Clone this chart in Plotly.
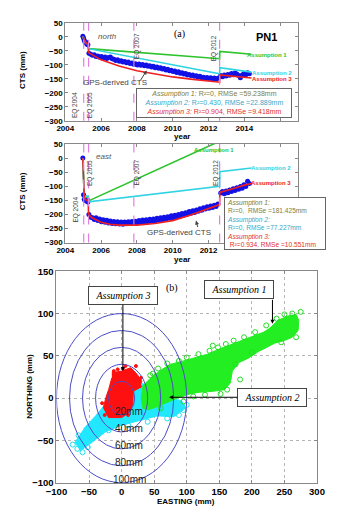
import plotly.graph_objects as go

# ---------------- data ----------------
EQ_YEARS = [2005.03, 2005.30, 2007.83, 2012.62]
EQ_LABELS = ["EQ 2004", "EQ 2005", "EQ 2007", "EQ 2012"]
EQ_LABEL_X_N = [2004.58, 2005.42, 2008.02, 2012.32]
EQ_LABEL_Y_N = [-245, -245, -32, -40]
EQ_LABEL_X_E = [2004.58, 2005.38, 2007.98, 2012.41]
EQ_LABEL_Y_E = [-184, -53, -53, -53]

GPS_YEARS = [2004.98, 2005.02, 2005.06, 2005.10, 2005.14, 2005.18, 2005.22, 2005.26,
             2005.32, 2005.42, 2005.52, 2005.62, 2005.72, 2005.82, 2005.92,
             2006.02, 2006.12, 2006.22, 2006.32, 2006.42, 2006.52, 2006.62, 2006.72, 2006.82, 2006.92,
             2007.02, 2007.12, 2007.22, 2007.32, 2007.42, 2007.52, 2007.62, 2007.72, 2007.82, 2007.92,
             2008.02, 2008.12, 2008.22, 2008.32, 2008.42, 2008.52, 2008.62, 2008.72, 2008.82, 2008.92,
             2009.02, 2009.12, 2009.22, 2009.32, 2009.42, 2009.52, 2009.62, 2009.72, 2009.82, 2009.92,
             2010.02, 2010.12, 2010.22, 2010.32, 2010.42, 2010.52, 2010.62, 2010.72, 2010.82, 2010.92,
             2011.02, 2011.12, 2011.22, 2011.32, 2011.42, 2011.52, 2011.62, 2011.72, 2011.82, 2011.92,
             2012.02, 2012.12, 2012.22, 2012.32, 2012.42, 2012.52,
             2012.68, 2012.78, 2012.88, 2012.98, 2013.08, 2013.18, 2013.28, 2013.38, 2013.48,
             2013.58, 2013.68, 2013.78, 2013.88, 2013.98, 2014.08, 2014.18, 2014.28]

GPS_NORTH = [2, -4, -12, -18, -22, -20, -26, -28,
             -58, -62, -66, -64, -70, -68, -73,
             -70, -75, -72, -77, -74, -72, -78, -80, -84, -82,
             -87, -85, -90, -88, -92, -90, -95, -93, -98, -96,
             -100, -97, -101, -99, -103, -100, -105, -103, -108, -105,
             -110, -108, -112, -110, -115, -113, -118, -116, -121, -119,
             -124, -122, -127, -125, -130, -128, -133, -131, -136, -134,
             -138, -136, -141, -139, -143, -141, -146, -144, -148, -145,
             -149, -146, -150, -147, -151, -148,
             -138, -142, -136, -140, -134, -137, -131, -135, -129,
             -133, -138, -146, -136, -131, -135, -128, -132]

GPS_EAST = [0, -130, -146, -150, -142, -152, -146, -156,
            -200, -210, -212, -218, -212, -222, -216,
            -226, -219, -228, -221, -230, -223, -232, -225, -233, -226,
            -234, -227, -235, -227, -233, -226, -232, -225, -231, -224,
            -230, -222, -229, -220, -227, -219, -226, -217, -224, -216,
            -223, -214, -221, -212, -219, -210, -217, -208, -214, -205,
            -212, -203, -209, -200, -206, -197, -203, -194, -199, -190,
            -196, -187, -193, -184, -189, -180, -185, -176, -181, -173,
            -178, -170, -175, -167, -172, -163,
            -124, -119, -127, -117, -123, -113, -119, -109, -115,
            -105, -111, -101, -107, -95, -101, -82, -90]

A1_N_YEARS = [2004.98, 2005.10, 2005.28, 2005.30, 2012.62, 2012.63, 2014.40]
A1_N = [2, -18, -28, -42, -78, -52, -62]
A2_N_YEARS = [2004.98, 2005.10, 2005.28, 2005.30, 2012.62, 2012.63, 2014.40]
A2_N = [2, -18, -28, -42, -132, -110, -126]
A3_N_YEARS = [2004.98, 2005.10, 2005.28, 2005.30, 2006.0, 2007.0, 2008.0, 2009.0,
              2010.0, 2011.0, 2012.0, 2012.62, 2012.63, 2014.40]
A3_N = [2, -18, -28, -56, -82, -104, -121, -133, -143, -151, -158, -162, -136, -147]

A1_E_YEARS = [2004.98, 2005.03, 2005.06, 2005.15, 2005.28, 2005.30, 2012.62, 2012.63, 2014.40]
A1_E = [0, -100, -140, -138, -140, -152, 60, 80, 100]
A2_E_YEARS = [2004.98, 2005.03, 2005.06, 2005.15, 2005.28, 2005.30, 2012.62, 2012.63, 2014.40]
A2_E = [0, -100, -140, -135, -135, -155, -100, -48, -35]
A3_E_YEARS = [2004.98, 2005.03, 2005.06, 2005.15, 2005.28, 2005.30, 2005.5, 2006.0, 2006.5,
              2007.0, 2008.0, 2009.0, 2010.0, 2011.0, 2012.0, 2012.62, 2012.63, 2013.0,
              2013.5, 2014.0, 2014.40]
A3_E = [0, -100, -140, -148, -152, -200, -212, -228, -235, -238, -238, -232, -222,
        -202, -180, -165, -122, -116, -106, -96, -90]

YEAR_TICKS = [2004, 2006, 2008, 2010, 2012, 2014, 2016]
YEAR_TICKTEXT_N = ["2004", "2006", "2008", "2010", "2012", "2014", ""]
YEAR_TICKTEXT_E = ["2004", "2006", "2008", "2010", "2012", "", ""]   # 2014 hidden behind the box
CTS_TICKS = [50, 0, -50, -100, -150, -200, -250, -300]

# scatter (b): cluster outlines (EASTING, NORTHING in mm) and scattered points
GREEN_E = [33, 30, 33, 45, 60, 75, 95, 115, 132, 150, 170, 190, 204, 218, 228, 240, 255, 268,
           272, 271, 262, 250, 235, 225, 210, 194, 180, 170, 167, 158, 140, 120, 105, 85, 70, 55, 40]
GREEN_N = [-13, 0, 15, 24, 33, 40, 44, 48, 52, 58, 64, 70, 74, 78, 83, 92, 97, 99,
           92, 80, 72, 68, 65, 61, 55, 47, 42, 32, 18, 10, 8, 7, 5, 0, -5, -10, -14]
GREEN_PTS_E = [275, 262, 250, 238, 222, 205, 188, 172, 160, 148, 135, 118, 100, 88, 70, 56,
               44, 162, 175, 152, 128, 110, 95, 245, 268, 200, 182, 140, 60, 48]
GREEN_PTS_N = [102, 100, 99, 94, 86, 78, 72, 68, 64, 60, 56, 52, 48, 44, 41, 35,
               27, 10, 40, 5, 4, 2, -4, 66, 72, 54, 22, 62, -12, 29]

CYAN_E = [-72, -63, -45, -25, 0, 25, 55, 80, 98, 92, 62, 45, 30, 15, -10, -27, -40, -58]
CYAN_N = [-52, -62, -52, -40, -32, -27, -21, -22, -12, -3, 2, 12, 18, 10, 0, -9, -21, -36]
CYAN_PTS_E = [-75, -68, -60, -52, -45, -35, 95, 100, 88, 70, 40, 10, -20, -66, -30]
CYAN_PTS_N = [-55, -60, -64, -58, -48, -42, -14, -8, -20, -24, -28, -32, -38, -44, -30]

RED_E = [-15, 0, 14, 24, 31, 27, 18, 17, 12, 0, -20, -28, -24, -20, -15]
RED_N = [30, 32, 36, 28, 20, 12, 8, -7, -17, -23, -23, -11, 1, 10, 24]
RED_PTS_E = [22, 6, -6, 30, -26, -30, 28, 10, -12, 2]
RED_PTS_N = [38, 38, 34, 24, -20, -6, 14, -20, 32, 35]

RADII = [20, 40, 60, 80, 100]

# ---------------- styles ----------------
GREEN = "#2cc42c"
CYAN = "#2fd3e3"
RED = "#f02020"
BLUE = "#1212e6"
EQ_COLOR = "#e27fe2"
OLIVE = "#7d7d3c"
CYAN_TXT = "#34a9c9"
RED_TXT = "#e23030"
SANS = "Liberation Sans"
SERIF = "Liberation Serif"

fig = go.Figure()

# ---- panel (a) north ----
fig.add_trace(go.Scatter(x=GPS_YEARS, y=GPS_NORTH, mode="markers",
                         marker=dict(color=BLUE, size=5, line=dict(width=0)),
                         xaxis="x", yaxis="y"))
for yrs, vals, col in [(A1_N_YEARS, A1_N, GREEN), (A2_N_YEARS, A2_N, CYAN), (A3_N_YEARS, A3_N, RED)]:
    fig.add_trace(go.Scatter(x=yrs, y=vals, mode="lines", line=dict(color=col, width=1.6),
                             xaxis="x", yaxis="y"))

# ---- panel (a) east ----
fig.add_trace(go.Scatter(x=GPS_YEARS, y=GPS_EAST, mode="markers",
                         marker=dict(color=BLUE, size=5, line=dict(width=0)),
                         xaxis="x2", yaxis="y2"))
for yrs, vals, col in [(A1_E_YEARS, A1_E, GREEN), (A2_E_YEARS, A2_E, CYAN), (A3_E_YEARS, A3_E, RED)]:
    fig.add_trace(go.Scatter(x=yrs, y=vals, mode="lines", line=dict(color=col, width=1.6),
                             xaxis="x2", yaxis="y2"))

# ---- panel (b) ----
for ex, ny, fc in [(CYAN_E, CYAN_N, "#22e8ff"), (GREEN_E, GREEN_N, "#22ee22"), (RED_E, RED_N, "#ff1010")]:
    fig.add_trace(go.Scatter(x=ex, y=ny, mode="lines", fill="toself", fillcolor=fc,
                             line=dict(color=fc, width=1), xaxis="x3", yaxis="y3"))
for ex, ny, fc, sym, sz in [(CYAN_PTS_E, CYAN_PTS_N, "#22e0f5", "circle-open", 5),
                            (GREEN_PTS_E, GREEN_PTS_N, "#22dd22", "circle-open", 5),
                            (RED_PTS_E, RED_PTS_N, "#ff1010", "circle", 3)]:
    fig.add_trace(go.Scatter(x=ex, y=ny, mode="markers",
                             marker=dict(color=fc, size=sz, symbol=sym, line=dict(width=1, color=fc)),
                             xaxis="x3", yaxis="y3"))

shapes = []
for xr, yr in [("x", "y"), ("x2", "y2")]:
    for eqy in EQ_YEARS:
        shapes.append(dict(type="line", xref=xr, yref=yr + " domain", x0=eqy, x1=eqy, y0=0, y1=1,
                           line=dict(color=EQ_COLOR, width=1.2, dash="dash")))
for r in RADII:
    shapes.append(dict(type="circle", xref="x3", yref="y3", x0=-r, x1=r, y0=-r, y1=r,
                       line=dict(color="#4c4cc8", width=1)))

ann = []
def txt(x, y, t, xr, yr, size=7, color="black", angle=0, family=SANS, weight="normal", **kw):
    d = dict(x=x, y=y, text=t, xref=xr, yref=yr, showarrow=False, textangle=angle,
             xanchor="center", yanchor="middle",
             font=dict(size=size, color=color, family=family, weight=weight))
    d.update(kw)
    ann.append(d)

for lx, ly, lab in zip(EQ_LABEL_X_N, EQ_LABEL_Y_N, EQ_LABELS):
    txt(lx, ly, lab, "x", "y", size=6.5, color="#444", angle=-90)
for lx, ly, lab in zip(EQ_LABEL_X_E, EQ_LABEL_Y_E, EQ_LABELS):
    txt(lx, ly, lab, "x2", "y2", size=6.5, color="#444", angle=-90)

txt(2006.34, 3, "<i>north</i>", "x", "y", size=8, color="#555")
txt(2010.37, 12, "(a)", "x", "y", size=10, family=SERIF)
txt(2015.22, -2, "PN1", "x", "y", size=11, weight="bold")
txt(2015.27, -64, "Assumption 1", "x", "y", size=6, color=GREEN, weight="bold")
txt(2015.55, -128, "Assumption 2", "x", "y", size=6, color=CYAN, weight="bold")
txt(2015.52, -151, "Assumption 3", "x", "y", size=6, color=RED, weight="bold")
txt(2006.8, -163, "GPS-derived CTS", "x", "y", size=8, color="#444")
ann.append(dict(x=2008.55, y=-120, ax=2008.15, ay=-160, xref="x", yref="y", axref="x", ayref="y",
                text="", showarrow=True, arrowhead=2, arrowsize=0.8, arrowwidth=1, arrowcolor="#444"))

txt(2006.15, 4, "<i>east</i>", "x2", "y2", size=8, color="#555")
txt(2012.32, 29, "Assumption 1", "x2", "y2", size=6, color=GREEN, weight="bold")
txt(2015.5, -36, "Assumption 2", "x2", "y2", size=6, color=CYAN, weight="bold")
txt(2015.5, -90, "Assumption 3", "x2", "y2", size=6, color=RED, weight="bold")
txt(2010.34, -265, "GPS-derived CTS", "x2", "y2", size=8, color="#444")
ann.append(dict(x=2011.3, y=-222, ax=2011.42, ay=-250, xref="x2", yref="y2", axref="x2", ayref="y2",
                text="", showarrow=True, arrowhead=2, arrowsize=0.8, arrowwidth=1, arrowcolor="#444"))

# fit-statistics boxes
ann.append(dict(x=214.5 / 361, y=1 - 99.5 / 520, xref="paper", yref="paper", showarrow=False,
                xanchor="center", yanchor="middle",
                text=(f"<span style='color:{OLIVE}'><i>Assumption 1:</i> R²=0, RMSe =59.238mm</span><br>"
                      f"<span style='color:{CYAN_TXT}'><i>Assumption 2:</i> R²=0.430, RMSe =22.889mm</span><br>"
                      f"<span style='color:{RED_TXT}'><i>Assumption 3:</i> R²=0.904, RMSe =9.418mm</span>"),
                font=dict(size=7, family=SANS), align="center", bgcolor="white",
                bordercolor="#666", borderwidth=1, borderpad=2, width=150, height=24))
ann.append(dict(x=278.5 / 361, y=1 - 222.5 / 520, xref="paper", yref="paper", showarrow=False,
                xanchor="center", yanchor="middle",
                text=(f"<span style='color:{OLIVE}'><i>Assumption 1:</i><br>R²=0,  RMSe =181.425mm</span><br>"
                      f"<span style='color:{CYAN_TXT}'><i>Assumption 2:</i><br>R²=0, RMSe =77.227mm</span><br>"
                      f"<span style='color:{RED_TXT}'><i>Assumption 3:</i><br> R²=0.934, RMSe =10.551mm</span>"),
                font=dict(size=6.6, family=SANS), align="left", bgcolor="white",
                bordercolor="#666", borderwidth=1, borderpad=2, width=96, height=47))

# axis titles
txt(180 / 361, 1 - 133.5 / 520, "year", "paper", "paper", size=8, weight="bold")
txt(180 / 361, 1 - 258.5 / 520, "year", "paper", "paper", size=8, weight="bold")
txt(12 / 361, 1 - 65 / 520, "CTS (mm)", "paper", "paper", size=8, weight="bold", angle=-90)
txt(12 / 361, 1 - 189 / 520, "CTS (mm)", "paper", "paper", size=8, weight="bold", angle=-90)
txt(185 / 361, 1 - 506.5 / 520, "EASTING (mm)", "paper", "paper", size=8, weight="bold")
txt(20 / 361, 1 - 388 / 520, "NORTHING (mm)", "paper", "paper", size=8, weight="bold", angle=-90)

# panel (b) labels
txt(77.5, 130, "(b)", "x3", "y3", size=10, family=SERIF)
for r in RADII:
    txt(12, -r + 4, f"{r}mm", "x3", "y3", size=10, color="#222")
box = dict(font=dict(size=10, family=SERIF, color="black"), bgcolor="white", bordercolor="#444",
           borderwidth=1, borderpad=3, width=62, height=11)
ann.append(dict(x=2, y=32, ax=2, ay=121, xref="x3", yref="y3", axref="x3", ayref="y3",
                text="<i>Assumption 3</i>", showarrow=True, arrowhead=2, arrowsize=0.8,
                arrowwidth=1, arrowcolor="black", **box))
ann.append(dict(x=180, y=128, xref="x3", yref="y3", text="<i>Assumption 1</i>", showarrow=False, **box))
ann.append(dict(x=231.6, y=88, ax=231.6, ay=118, xref="x3", yref="y3", axref="x3", ayref="y3",
                text="", showarrow=True, arrowhead=2, arrowsize=0.8, arrowwidth=1, arrowcolor="black"))
ann.append(dict(x=73, y=1, ax=230.6, ay=1, xref="x3", yref="y3", axref="x3", ayref="y3",
                text="<i>Assumption 2</i>", showarrow=True, arrowhead=2, arrowsize=0.8,
                arrowwidth=1, arrowcolor="black", **box))

tick_small = dict(size=8, family=SANS, color="black", weight="bold")
tick_big = dict(size=9.5, family=SANS, color="black", weight="bold")
common = dict(showline=True, linecolor="#888", linewidth=1, mirror="ticks", ticks="inside",
              ticklen=3, tickcolor="#888", zeroline=False)

fig.update_layout(
    width=361, height=520, margin=dict(l=0, r=0, t=0, b=0),
    paper_bgcolor="white", plot_bgcolor="white", showlegend=False,
    xaxis=dict(domain=[57.3 / 361, 303 / 361], range=[2004, 2017], tickvals=YEAR_TICKS,
               ticktext=YEAR_TICKTEXT_N, tickfont=tick_small, showgrid=False, anchor="y", **common),
    yaxis=dict(domain=[1 - 117.3 / 520, 1 - 17.3 / 520], range=[-300, 50], tickvals=CTS_TICKS,
               tickfont=tick_small, showgrid=False, anchor="x", **common),
    xaxis2=dict(domain=[57.3 / 361, 303 / 361], range=[2004, 2017], tickvals=YEAR_TICKS,
                ticktext=YEAR_TICKTEXT_E, tickfont=tick_small, showgrid=False, anchor="y2", **common),
    yaxis2=dict(domain=[1 - 241.7 / 520, 1 - 141 / 520], range=[-300, 50], tickvals=CTS_TICKS,
                tickfont=tick_small, showgrid=False, anchor="x2", **common),
    xaxis3=dict(domain=[48 / 361, 323 / 361], range=[-100, 300], dtick=50, tickfont=tick_big,
                showgrid=True, gridcolor="#b5b5b5", griddash="dot", gridwidth=1, anchor="y3", **common),
    yaxis3=dict(domain=[1 - 487 / 520, 1 - 271 / 520], range=[-100, 150], dtick=50, tickfont=tick_big,
                showgrid=True, gridcolor="#b5b5b5", griddash="dot", gridwidth=1, anchor="x3", **common),
    shapes=shapes, annotations=ann,
)

fig.write_html("out.html", config={"displayModeBar": False},
               post_script="document.body.style.margin='0px';")
